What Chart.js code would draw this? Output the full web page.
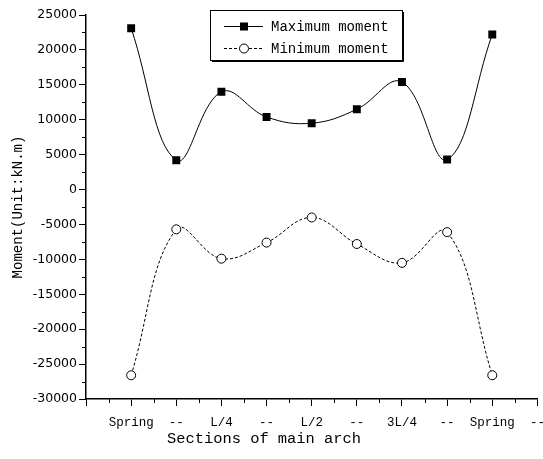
<!DOCTYPE html>
<html>
<head>
<meta charset="utf-8">
<script src="https://cdn.jsdelivr.net/npm/chart.js@4/dist/chart.umd.min.js"></script>
<style>
  html, body { margin: 0; padding: 0; background: #fff; }
</style>
</head>
<body>
<canvas id="moment-chart" width="543" height="459"></canvas>
<script>
// Data
const tickLabels = ["", "Spring", "--", "L/4", "--", "L/2", "--", "3L/4", "--", "Spring", "--"];
const sectionPos = [1, 2, 3, 4, 5, 6, 7, 8, 9];
const maxMoment = [23100, 4200, 14000, 10400, 9500, 11500, 15400, 4300, 22200];
const minMoment = [-26600, -5700, -9900, -7600, -4000, -7800, -10500, -6100, -26600];
const seriesNames = ["Maximum moment", "Minimum moment"];
const xTitle = "Sections of main arch";
const yTitle = "Moment(Unit:kN.m)";

const MONO = "'Liberation Mono', 'DejaVu Sans Mono', monospace";

function toPoints(values) {
  return values.map((v, i) => ({ x: sectionPos[i], y: v }));
}

// minor ticks halfway between the major ones
const minorTicks = {
  id: "minorTicks",
  afterDraw(chart) {
    const ctx = chart.ctx;
    const xs = chart.scales.x;
    const ys = chart.scales.y;
    ctx.save();
    ctx.strokeStyle = "#000";
    ctx.lineWidth = 1;
    ctx.beginPath();
    for (let i = 0; i < xs.ticks.length - 1; i++) {
      const px = Math.round(xs.getPixelForValue((xs.ticks[i].value + xs.ticks[i + 1].value) / 2)) + 0.5;
      ctx.moveTo(px, xs.top);
      ctx.lineTo(px, xs.top + 4);
    }
    for (let i = 0; i < ys.ticks.length - 1; i++) {
      const py = Math.round(ys.getPixelForValue((ys.ticks[i].value + ys.ticks[i + 1].value) / 2)) + 0.5;
      ctx.moveTo(ys.right, py);
      ctx.lineTo(ys.right - 4, py);
    }
    ctx.stroke();
    ctx.restore();
  },
};

// axis titles (x title sits left of centre in the original)
const axisTitles = {
  id: "axisTitles",
  afterDraw(chart) {
    const ctx = chart.ctx;
    const area = chart.chartArea;
    ctx.save();
    ctx.fillStyle = "#000";
    ctx.textAlign = "center";
    ctx.textBaseline = "middle";
    ctx.font = "15.4px " + MONO;
    ctx.fillText(xTitle, 264, 439);
    ctx.translate(18, (area.top + area.bottom) / 2);
    ctx.rotate(-Math.PI / 2);
    ctx.font = "14px " + MONO;
    ctx.fillText(yTitle, 0, 0);
    ctx.restore();
  },
};

// Origin style legend: line sample with marker, boxed
const boxLegend = {
  id: "boxLegend",
  afterDraw(chart) {
    const ctx = chart.ctx;
    const left = 210, top = 10, w = 192, h = 50;
    ctx.save();
    ctx.fillStyle = "#fff";
    ctx.fillRect(left, top, w, h);
    ctx.strokeStyle = "#000";
    ctx.lineWidth = 1;
    ctx.strokeRect(left + 0.5, top + 0.5, w, h);
    ctx.beginPath();
    ctx.moveTo(left + w + 1.5, top + 2);
    ctx.lineTo(left + w + 1.5, top + h + 1.5);
    ctx.lineTo(left + 2, top + h + 1.5);
    ctx.stroke();

    chart.data.datasets.forEach((ds, i) => {
      const y = 26 + i * 22;
      ctx.setLineDash(ds.borderDash || []);
      ctx.beginPath();
      ctx.moveTo(224, y + 0.5);
      ctx.lineTo(263, y + 0.5);
      ctx.stroke();
      ctx.setLineDash([]);
      const cx = 244;
      if (ds.pointStyle === "rect") {
        ctx.fillStyle = "#000";
        ctx.fillRect(cx - 4, y - 3.5, 8, 8);
      } else {
        ctx.fillStyle = "#fff";
        ctx.beginPath();
        ctx.arc(cx, y + 0.5, 4.5, 0, Math.PI * 2);
        ctx.fill();
        ctx.stroke();
      }
      ctx.fillStyle = "#000";
      ctx.font = "14px " + MONO;
      ctx.textAlign = "left";
      ctx.textBaseline = "middle";
      ctx.fillText(ds.label, 271, y + 1);
    });
    ctx.restore();
  },
};

const ctx = document.getElementById("moment-chart").getContext("2d");
const momentChart = new Chart(ctx, {
  type: "line",
  data: {
    datasets: [
      {
        label: seriesNames[0],
        data: toPoints(maxMoment),
        borderColor: "#000",
        borderWidth: 1,
        tension: 0.4,
        pointStyle: "rect",
        pointRadius: 5.6,
        pointBackgroundColor: "#000",
        pointBorderColor: "#000",
        pointBorderWidth: 0,
      },
      {
        label: seriesNames[1],
        data: toPoints(minMoment),
        borderColor: "#000",
        borderWidth: 1,
        borderDash: [3, 2],
        tension: 0.4,
        pointStyle: "circle",
        pointRadius: 4.5,
        pointBackgroundColor: "#fff",
        pointBorderColor: "#000",
        pointBorderWidth: 1,
      },
    ],
  },
  options: {
    responsive: false,
    animation: false,
    devicePixelRatio: 1,
    layout: { padding: { left: 0, right: 4, top: 15, bottom: 0 } },
    plugins: {
      legend: { display: false },
      tooltip: { enabled: false },
    },
    scales: {
      x: {
        type: "linear",
        min: 0,
        max: 10,
        grid: { drawOnChartArea: false, drawTicks: true, tickLength: 7, tickColor: "#000", tickWidth: 1 },
        border: { display: true, color: "#000", width: 1.5 },
        ticks: {
          stepSize: 1,
          autoSkip: false,
          maxRotation: 0,
          padding: 9,
          color: "#000",
          font: { family: MONO, size: 12.5 },
          callback: (v) => tickLabels[v],
        },
        afterFit(scale) {
          scale.height = 60;
          scale.paddingLeft = 0;
          scale.paddingRight = 0;
        },
      },
      y: {
        min: -30000,
        max: 25000,
        grid: { drawOnChartArea: false, drawTicks: true, tickLength: 7, tickColor: "#000", tickWidth: 1 },
        border: { display: true, color: "#000", width: 1.5 },
        ticks: {
          stepSize: 5000,
          padding: 2,
          color: "#000",
          font: { family: "'DejaVu Sans', sans-serif", size: 12.5 },
          callback: (v) => String(v),
        },
        afterFit(scale) {
          scale.width = 86;
          scale.paddingTop = 0;
          scale.paddingBottom = 0;
        },
      },
    },
  },
  plugins: [minorTicks, axisTitles, boxLegend],
});
</script>
</body>
</html>
